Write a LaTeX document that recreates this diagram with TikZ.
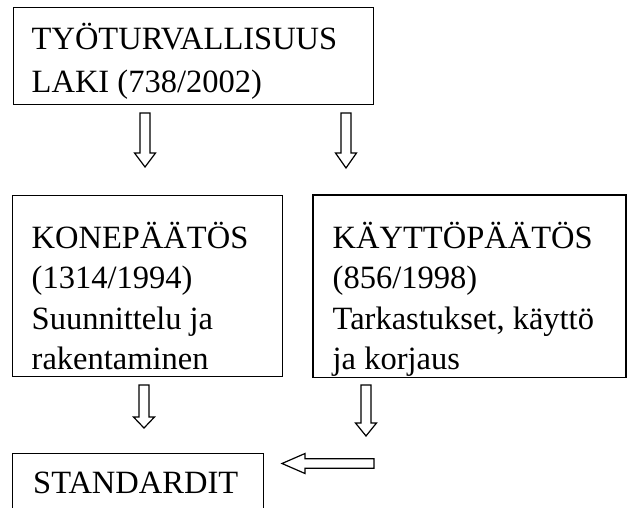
\documentclass[tikz,border=0pt]{standalone}
\usepackage{fontspec}
\setmainfont{Liberation Serif}
\begin{document}
\begin{tikzpicture}[x=1pt,y=1pt,
  box/.style={draw=black, line width=1.4pt, inner sep=0pt, anchor=north west},
  txt/.style={anchor=base west, inner sep=0pt, font=\fontsize{32.5}{40}\selectfont},
  blockarrow/.style={draw=black, line width=1.2pt, fill=white, line join=miter},
  pics/dnarrow/.style 2 args={code={\draw[blockarrow] (-5,0) -- (5,0) -- (5,-#1) -- (10.5,-#1) -- (0,-#1-#2) -- (-10.5,-#1) -- (-5,-#1) -- cycle;}},
  pics/lfarrow/.style={code={\draw[blockarrow] (0,0) -- (23,10) -- (23,4.75) -- (92,4.75) -- (92,-4.75) -- (23,-4.75) -- (23,-10) -- cycle;}}
]
\useasboundingbox (0,0) rectangle (627,-508);
\clip (0,0) rectangle (627,-508);

% top box
\node[box, minimum width=360, minimum height=97] (laki) at (13,-7) {};
\node[txt] (laki1) at (31.5,-50) {TYÖTURVALLISUUS};
\node[txt] (laki2) at (31.5,-92.5) {LAKI (738/2002)};

% middle left box
\node[box, minimum width=270, minimum height=181] (kone) at (12,-195) {};
\node[txt] (kone1) at (31.5,-248) {KONEPÄÄTÖS};
\node[txt] (kone2) at (31.5,-288.5) {(1314/1994)};
\node[txt] (kone3) at (31.5,-329) {Suunnittelu ja};
\node[txt] (kone4) at (31.5,-369.5) {rakentaminen};

% middle right box (text clipped to the box)
\node[box, draw=none, minimum width=311.5, minimum height=181] (kaytto) at (313,-195) {};
\begin{scope}
\clip (kaytto.north west) rectangle (kaytto.south east);
\node[txt] (kaytto1) at (332.5,-248) {KÄYTTÖPÄÄTÖS};
\node[txt] (kaytto2) at (332.5,-288.5) {(856/1998)};
\node[txt] (kaytto3) at (332.5,-329) {Tarkastukset, käyttö};
\node[txt] (kaytto4) at (332.5,-369.5) {ja korjaus};
\end{scope}
\draw[line width=1.4pt] (kaytto.north west) rectangle (kaytto.south east);

% bottom box
\node[box, minimum width=251, minimum height=80] (std) at (12,-453) {};
\node[txt] (std1) at (33,-493) {STANDARDIT};

% block arrows
\coordinate (a1) at (145,-113);
\coordinate (a2) at (346,-113);
\coordinate (a3) at (144,-385);
\coordinate (a4) at (366,-385);
\coordinate (a5) at (282,-463.5);
\pic at (a1) {dnarrow={40}{14}};
\pic at (a2) {dnarrow={40}{15}};
\pic at (a3) {dnarrow={32}{11}};
\pic at (a4) {dnarrow={38}{13}};
\pic at (a5) {lfarrow};
\end{tikzpicture}
\end{document}
